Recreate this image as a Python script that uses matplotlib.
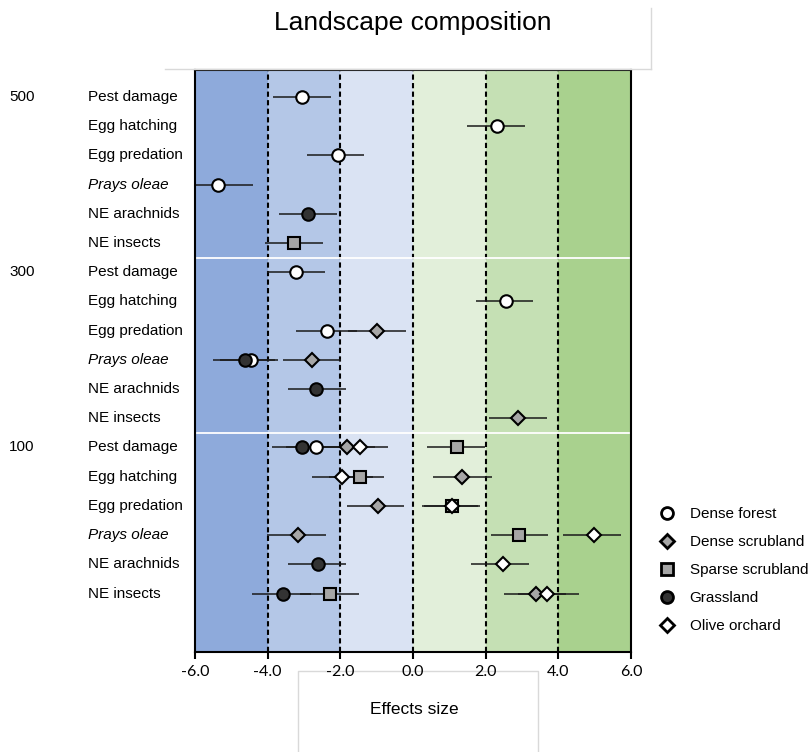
import matplotlib
matplotlib.use("Agg")
import matplotlib.pyplot as plt
from matplotlib import transforms
from matplotlib.lines import Line2D

plt.rcParams['font.family'] = ['Liberation Sans', 'DejaVu Sans']

# Row layout: three landscape radii, six response variables each
radii = ["500", "300", "100"]
responses = ["Pest damage", "Egg hatching", "Egg predation",
             "Prays oleae", "NE arachnids", "NE insects"]

# Effect sizes with confidence limits, per landscape class (row index 0-17)
forest_rows = [0, 1, 2, 3, 6, 7, 8, 9, 12]
forest_es = [-3.05, 2.32, -2.07, -5.36, -3.22, 2.55, -2.38, -4.47, -2.67]
forest_lo = [-3.86, 1.49, -2.93, -6.30, -4.01, 1.73, -3.22, -5.30, -3.50]
forest_hi = [-2.27, 3.08, -1.34, -4.41, -2.42, 3.31, -1.55, -3.72, -1.85]

dscrub_rows = [8, 9, 11, 12, 13, 14, 15, 17]
dscrub_es = [-1.00, -2.77, 2.90, -1.83, 1.36, -0.97, -3.16, 3.38]
dscrub_lo = [-1.80, -3.57, 2.09, -2.60, 0.56, -1.83, -4.01, 2.50]
dscrub_hi = [-0.20, -1.99, 3.68, -1.05, 2.17, -0.25, -2.40, 4.20]

sscrub_rows = [5, 12, 13, 14, 15, 17]
sscrub_es = [-3.28, 1.20, -1.46, 1.08, 2.93, -2.28]
sscrub_lo = [-4.07, 0.39, -2.30, 0.26, 2.14, -3.10]
sscrub_hi = [-2.49, 1.98, -0.79, 1.84, 3.72, -1.48]

grass_rows = [4, 9, 10, 12, 16, 17]
grass_es = [-2.88, -4.62, -2.67, -3.06, -2.61, -3.59]
grass_lo = [-3.68, -5.50, -3.43, -3.89, -3.43, -4.43]
grass_hi = [-2.10, -3.80, -1.84, -2.25, -1.85, -2.80]

olive_rows = [12, 13, 14, 15, 16, 17]
olive_es = [-1.46, -1.95, 1.08, 4.99, 2.47, 3.68]
olive_lo = [-2.25, -2.77, 0.30, 4.12, 1.60, 2.90]
olive_hi = [-0.70, -1.10, 1.80, 5.72, 3.19, 4.57]

band_edges = [-6, -4, -2, 0, 2, 4, 6]
band_colors = ["#8eaadb", "#b4c7e7", "#dae3f3", "#e2efda", "#c5e0b4", "#a9d18e"]
xticks = [-6, -4, -2, 0, 2, 4, 6]

series = [
    ("Dense forest", forest_rows, forest_es, forest_lo, forest_hi, "o", "white", 9.0),
    ("Dense scrubland", dscrub_rows, dscrub_es, dscrub_lo, dscrub_hi, "D", "#a6a6a6", 7.5),
    ("Sparse scrubland", sscrub_rows, sscrub_es, sscrub_lo, sscrub_hi, "s", "#a6a6a6", 8.5),
    ("Grassland", grass_rows, grass_es, grass_lo, grass_hi, "o", "#333333", 9.0),
    ("Olive orchard", olive_rows, olive_es, olive_lo, olive_hi, "D", "white", 7.5),
]

W, H = 809, 752
fig = plt.figure(figsize=(W / 100, H / 100), dpi=100)
ax = fig.add_axes([195 / W, 100 / H, 436 / W, 582 / H])

# Coloured effect-size bands and dashed guides
for i in range(len(band_colors)):
    ax.axvspan(band_edges[i], band_edges[i + 1], color=band_colors[i], lw=0, zorder=0)
for xv in band_edges[1:-1]:
    ax.axvline(xv, color="black", lw=1.5, ls=(0, (2.5, 1.6)), zorder=1)

# White separators between radius groups
for g in range(1, len(radii)):
    ax.axhline(g * len(responses) - 0.5, xmin=0.005, xmax=0.995,
               color="white", lw=1.3, zorder=1)

handles = []
for name, rows, es, lo, hi, mk, fc, ms in series:
    for r, lv, hv in zip(rows, lo, hi):
        ax.plot([lv, hv], [r, r], color="#1a1a1a", lw=1.1, zorder=2,
                solid_capstyle="butt")
    ax.plot(es, rows, ls="none", marker=mk, ms=ms, mfc=fc, mec="black",
            mew=1.5, zorder=3)
    handles.append(Line2D([], [], ls="none", marker=mk, ms=ms * 0.95, mfc=fc,
                          mec="black", mew=2.0, label=name))

ax.set_xlim(-6, 6)
ax.set_ylim(19.0, -0.92)
ax.set_yticks([])
ax.set_xticks(xticks)
ax.set_xticklabels([f"{v:.1f}" for v in xticks], fontfamily="Lato", fontsize=11.5)
ax.tick_params(axis="x", direction="out", length=5, width=1.5, pad=4)
for sp in ax.spines.values():
    sp.set_linewidth(1.5)
    sp.set_color("black")

# Row labels on the left
trans = transforms.blended_transform_factory(fig.transFigure, ax.transData)
for gi, rad in enumerate(radii):
    base = gi * len(responses)
    fig.text(9 / W, base, rad, transform=trans, fontsize=11, va="center", ha="left")
    for ri, resp in enumerate(responses):
        style = "italic" if resp == "Prays oleae" else "normal"
        fig.text(88 / W, base + ri, resp, transform=trans, fontsize=11,
                 va="center", ha="left", style=style)

# Title and axis label
fig.text(413 / W, 1 - 30 / H, "Landscape composition", fontsize=19,
         ha="center", va="baseline")
fig.text(414 / W, 1 - 710 / H, "Effects size", fontsize=12.5,
         ha="center", va="center")

# Faint text-box outlines
box_col = "#d9d9d9"
fig.add_artist(Line2D([165 / W, 651 / W], [1 - 69 / H, 1 - 69 / H],
                      transform=fig.transFigure, color=box_col, lw=1))
fig.add_artist(Line2D([651 / W, 651 / W], [1 - 8 / H, 1 - 69 / H],
                      transform=fig.transFigure, color=box_col, lw=1))
fig.add_artist(Line2D([298 / W, 298 / W, 538 / W, 538 / W],
                      [0, 1 - 671 / H, 1 - 671 / H, 0],
                      transform=fig.transFigure, color=box_col, lw=1,
                      zorder=0))

fig.legend(handles=handles, loc="upper left",
           bbox_to_anchor=(659 / W, 1 - 507 / H), frameon=False,
           fontsize=11, handlelength=1.0, handletextpad=1.0,
           labelspacing=0.92, borderaxespad=0, borderpad=0)

fig.savefig("out.png", dpi=100)
